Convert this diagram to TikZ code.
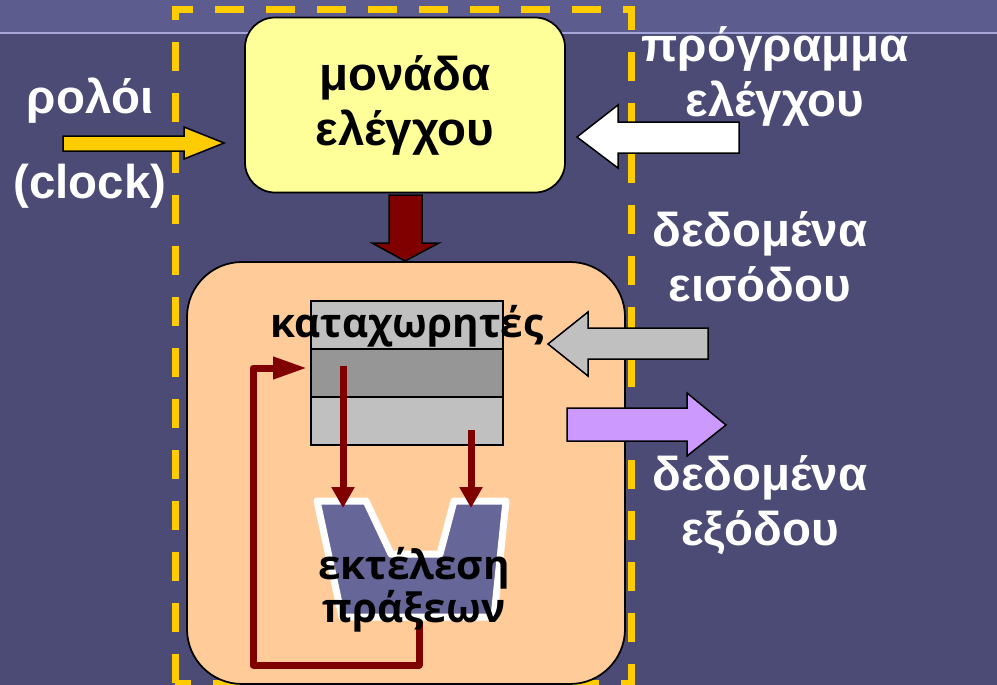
\documentclass[tikz,border=0pt]{standalone}
\usepackage{fontspec}
\setmainfont{Liberation Sans}
\newfontfamily\regfont{Open Sans}
\usetikzlibrary{arrows.meta}

\definecolor{bgband}{RGB}{92,92,142}
\definecolor{bgmain}{RGB}{75,75,118}
\definecolor{bandline}{RGB}{165,165,215}
\definecolor{gold}{RGB}{255,204,0}
\definecolor{ctrlyellow}{RGB}{255,255,153}
\definecolor{execorange}{RGB}{255,204,153}
\definecolor{darkred}{RGB}{128,0,0}
\definecolor{reglight}{RGB}{192,192,192}
\definecolor{regdark}{RGB}{150,150,150}
\definecolor{outpurple}{RGB}{204,153,255}
\definecolor{alublue}{RGB}{102,102,153}

\tikzset{
  lbl/.style={text=white,font=\bfseries\fontsize{27}{31.3}\selectfont,align=center},
  innerlbl/.style={font=\regfont\bfseries\fontsize{23}{24.5}\selectfont,align=center},
  ctrlbox/.style={draw=black,line width=0.35mm,fill=ctrlyellow,rounded corners=6mm,minimum width=64mm,minimum height=35mm,font=\bfseries\fontsize{27}{31.3}\selectfont,align=center},
  execbox/.style={draw=black,line width=0.35mm,fill=execorange,rounded corners=11mm,minimum width=87.6mm,minimum height=84.4mm},
  regbox/.style={draw=black,line width=0.35mm,minimum width=38.4mm,minimum height=9.6mm,inner sep=0pt},
  blockarr/.style={draw=black,line width=0.3mm},
  conn/.style={draw=darkred,line width=1.4mm,line join=round,-{Triangle[length=4.2mm,width=4.4mm]}}
}

\begin{document}
\begin{tikzpicture}[x=0.2mm,y=-0.2mm]
\useasboundingbox (0,0) rectangle (997,685);
\fill[bgmain] (0,0) rectangle (997,685);
\fill[bgband] (0,0) rectangle (997,33);
\draw[bandline,line width=0.4mm] (0,33) -- (997,33);

% cpu boundary
\draw[gold,line width=1.4mm,dash pattern=on 5.8mm off 4.4mm] (175,683) -- (175,9) -- (631,9) -- (631,683) -- cycle;

\node[execbox] (exec) at (406,473) {};
\node[ctrlbox] (ctrl) at (405,105) {μονάδα\\ελέγχου};

\foreach \i/\c in {1/reglight,2/regdark,3/reglight}
    \node[regbox,fill=\c] (reg\i) at (407,{277+48*\i}) {};

% alu
\draw[fill=alublue,draw=white,line width=1.4mm,line join=round] (317,501) -- (366,501) -- (391,554) -- (440,554) -- (454,501) -- (506,501) -- (494,617) -- (342,617) -- cycle;

\coordinate (srcA) at (343,366);
\coordinate (srcB) at (471,430);
\coordinate (inA) at (343,508);
\coordinate (inB) at (471,508);
\coordinate (aluout) at (419,622);
\coordinate (fbin) at (307,368);

\draw[conn] (srcA) -- (inA);
\draw[conn] (srcB) -- (inB);
\draw[conn,-{Triangle[length=6.8mm,width=4.2mm]}] (aluout) |- (253,665) |- (fbin);

\node[innerlbl] (lblreg) at (407,326) {καταχωρητές};
\node[innerlbl] (lblalu) at (414,590) {εκτέλεση\\πράξεων};

% block arrows
\draw[blockarr,fill=gold] (63,136) -- (184,136) -- (184,127) -- (224,143) -- (184,159) -- (184,151) -- (63,151) -- cycle;
\draw[blockarr,fill=white] (739,122) -- (618,122) -- (618,105) -- (577,137) -- (618,168) -- (618,153) -- (739,153) -- cycle;
\draw[blockarr,fill=darkred] (389,195) -- (422,195) -- (422,243) -- (439,243) -- (405,261) -- (372,243) -- (389,243) -- cycle;
\draw[blockarr,fill=reglight] (708,328) -- (588,328) -- (588,312) -- (548,344) -- (588,376) -- (588,359) -- (708,359) -- cycle;
\draw[blockarr,fill=outpurple] (567,408) -- (687,408) -- (687,393) -- (726,425) -- (687,456) -- (687,441) -- (567,441) -- cycle;

\node[lbl] (lblclock) at (90,143) {ρολόι\\[17pt](clock)};
\node[lbl] (lblprog) at (775,76) {πρόγραμμα\\ελέγχου};
\node[lbl] (lblin) at (760,257) {δεδομένα\\εισόδου};
\node[lbl] (lblout) at (760,505) {δεδομένα\\εξόδου};

\end{tikzpicture}
\end{document}
